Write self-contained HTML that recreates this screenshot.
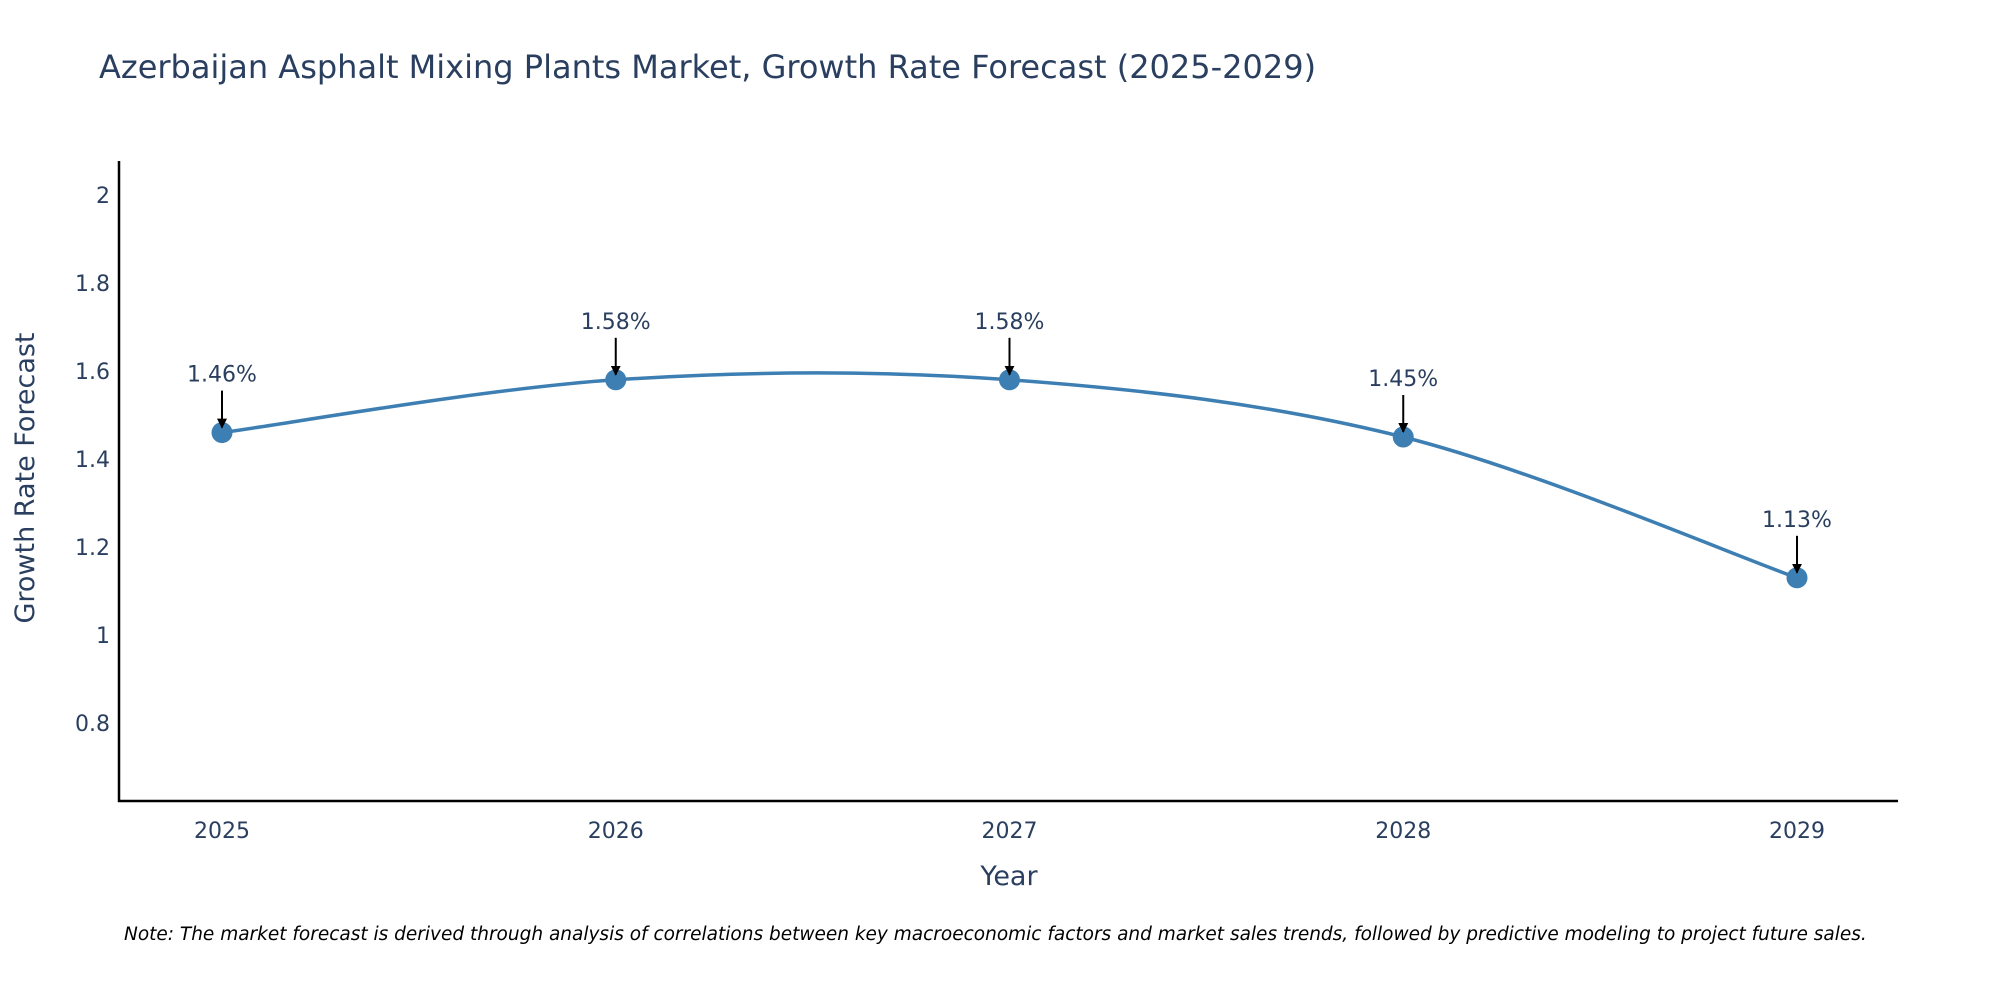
<!DOCTYPE html>
<html><head><meta charset="utf-8"><style>
html,body{margin:0;padding:0;background:#fff;}
svg text{font-family:"DejaVu Sans","Liberation Sans",Arial,sans-serif;fill:#2a3f5f;}
</style></head><body>
<svg id="chart" width="2000" height="1000" viewBox="0 0 2000 1000" xmlns="http://www.w3.org/2000/svg">
<defs><marker id="arr" viewBox="0 0 10 10" refX="9" refY="5" markerWidth="5" markerHeight="5" orient="auto"><path d="M0,0 L10,5 L0,10 z" fill="#000"/></marker></defs>
<text x="99" y="78" font-size="32">Azerbaijan Asphalt Mixing Plants Market, Growth Rate Forecast (2025-2029)</text>
<g id="plot"></g>
<line x1="119" y1="161" x2="119" y2="802" stroke="#000" stroke-width="2.5"/>
<line x1="118" y1="801" x2="1898" y2="801" stroke="#000" stroke-width="2.5"/>
<text transform="translate(34,478) rotate(-90)" text-anchor="middle" font-size="27">Growth Rate Forecast</text>
<text x="1009" y="885" text-anchor="middle" font-size="27">Year</text>
<text x="124" y="940" font-size="18.5" font-style="italic" style="fill:#000">Note: The market forecast is derived through analysis of correlations between key macroeconomic factors and market sales trends, followed by predictive modeling to project future sales.</text>
</svg>
<script>
const years = ["2025","2026","2027","2028","2029"];
const values = [1.46, 1.58, 1.58, 1.45, 1.13];
const labels = ["1.46%","1.58%","1.58%","1.45%","1.13%"];
const yTicks = [0.8, 1, 1.2, 1.4, 1.6, 1.8, 2];
const yTickLabels = ["0.8","1","1.2","1.4","1.6","1.8","2"];

const NS="http://www.w3.org/2000/svg";
const g=document.getElementById('plot');
const xS=i=>222+i*(1797-222)/(years.length-1);
const yS=v=>635-(v-1)*440;
function mk(t,a){const e=document.createElementNS(NS,t);for(const k in a)e.setAttribute(k,a[k]);g.appendChild(e);return e;}
yTicks.forEach((v,i)=>{const t=mk('text',{x:110,y:yS(v)+8,'text-anchor':'end','font-size':22});t.textContent=yTickLabels[i];

});
years.forEach((y,i)=>{const t=mk('text',{x:xS(i),y:838,'text-anchor':'middle','font-size':22});t.textContent=y;

});
const P=values.map((v,i)=>[xS(i),yS(v)]);
let d='M'+P[0][0]+','+P[0][1];const s=0.5/3*2;
for(let i=0;i<P.length-1;i++){const p0=P[Math.max(0,i-1)],p1=P[i],p2=P[i+1],p3=P[Math.min(P.length-1,i+2)];
const c1=[p1[0]+(p2[0]-p0[0])*s/2,p1[1]+(p2[1]-p0[1])*s/2],c2=[p2[0]-(p3[0]-p1[0])*s/2,p2[1]-(p3[1]-p1[1])*s/2];
d+=` C${c1[0]},${c1[1]} ${c2[0]},${c2[1]} ${p2[0]},${p2[1]}`;}
const ln=mk('path',{d:d,fill:'none',stroke:'#3d7fb3','stroke-width':3.5});


P.forEach((p,i)=>{const c=mk('circle',{cx:p[0],cy:p[1],r:10.5,fill:'#3d7fb3'});


const a=mk('line',{x1:p[0],y1:p[1]-42,x2:p[0],y2:p[1]-5,stroke:'#000','stroke-width':2,'marker-end':'url(#arr)'});


const t=mk('text',{x:p[0],y:p[1]-51,'text-anchor':'middle','font-size':22});t.textContent=labels[i];

});
</script>
</body></html>
